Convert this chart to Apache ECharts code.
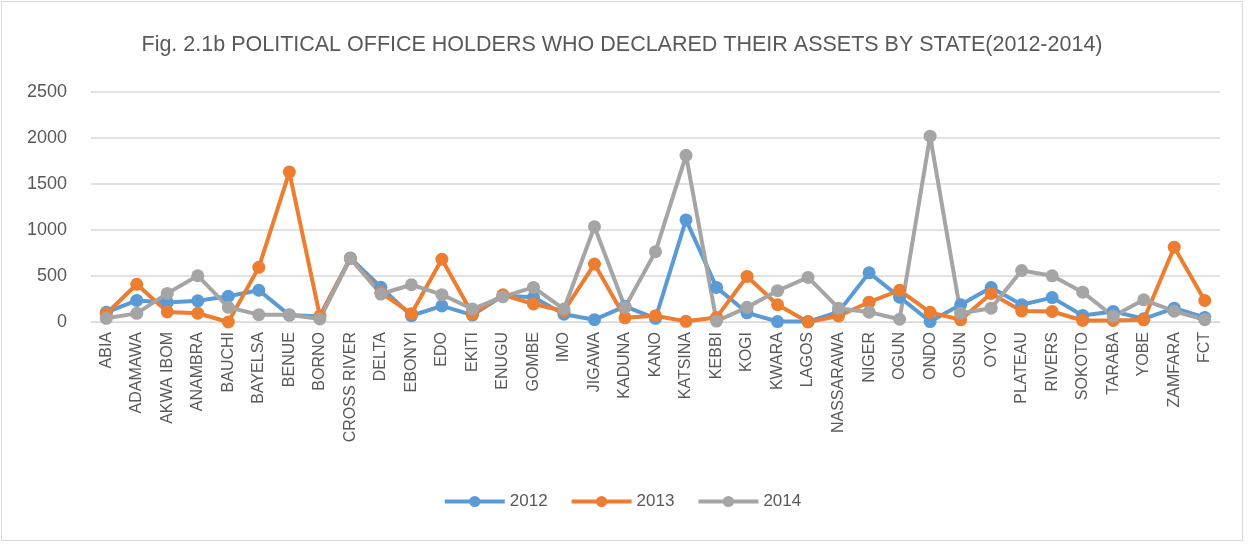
<!DOCTYPE html>
<html>
<head>
<meta charset="utf-8">
<style>
  html, body { margin: 0; padding: 0; background: #fff; }
  #container { position: absolute; left: 1px; top: 1px; width: 1242px; height: 540px;
               border: 1px solid #d9d9d9; box-sizing: border-box; }
</style>
</head>
<body>
<div id="container"></div>
<script src="https://cdn.jsdelivr.net/npm/echarts@6/dist/echarts.min.js"></script>
<script>
// states along the x axis
const states = ['ABIA','ADAMAWA','AKWA IBOM','ANAMBRA','BAUCHI','BAYELSA','BENUE','BORNO',
  'CROSS RIVER','DELTA','EBONYI','EDO','EKITI','ENUGU','GOMBE','IMO','JIGAWA','KADUNA','KANO',
  'KATSINA','KEBBI','KOGI','KWARA','LAGOS','NASSARAWA','NIGER','OGUN','ONDO','OSUN','OYO',
  'PLATEAU','RIVERS','SOKOTO','TARABA','YOBE','ZAMFARA','FCT'];

// values
const v2012 = [105, 235, 213, 230, 280, 345, 75, 60, 696, 378, 68, 175, 75, 286, 268, 85, 25,
  170, 40, 1110, 376, 100, 5, 5, 110, 535, 270, 5, 187, 375, 187, 265, 70, 115, 35, 150, 50];
const v2013 = [90, 410, 110, 95, 0, 594, 1630, 65, 690, 320, 90, 682, 87, 295, 196, 120, 630,
  45, 68, 7, 50, 495, 188, 0, 65, 215, 345, 105, 24, 310, 120, 114, 16, 16, 24, 813, 234];
const v2014 = [40, 94, 311, 503, 159, 80, 79, 33, 690, 304, 405, 297, 141, 275, 376, 141, 1036,
  160, 764, 1812, 10, 159, 340, 485, 150, 107, 30, 2020, 96, 150, 560, 502, 324, 63, 241, 117, 25];

const years = ['2012', '2013', '2014'];
const colors = ['#5B9BD5', '#ED7D31', '#A5A5A5'];
const yTicks = [0, 500, 1000, 1500, 2000, 2500];

const chart = echarts.init(document.getElementById('container'));

function makeSeries(name, data, color) {
  return {
    name: name,
    type: 'line',
    data: data,
    symbol: 'circle',
    symbolSize: 13,
    lineStyle: { width: 4, color: color },
    itemStyle: { color: color },
    animation: false
  };
}

chart.setOption({
  color: colors,
  title: {
    text: 'Fig. 2.1b POLITICAL OFFICE HOLDERS WHO DECLARED THEIR ASSETS BY STATE(2012-2014)',
    left: 'center',
    top: 27,
    textStyle: { fontFamily: 'Liberation Sans', fontSize: 21.5, fontWeight: 'normal', color: '#595959' }
  },
  legend: {
    bottom: 25,
    left: 'center',
    itemWidth: 60,
    itemHeight: 14,
    itemGap: 22,
    lineStyle: { width: 4 },
    textStyle: { fontFamily: 'Liberation Sans', fontSize: 17, color: '#595959' },
    data: years
  },
  grid: { left: 89, right: 22, top: 90, bottom: 218, containLabel: false },
  xAxis: {
    type: 'category',
    data: states,
    boundaryGap: true,
    axisLine: { lineStyle: { color: '#d9d9d9', width: 1 } },
    axisTick: { show: false },
    axisLabel: { rotate: 90, interval: 0, fontFamily: 'Liberation Sans', fontSize: 16,
                 color: '#595959', margin: 10 }
  },
  yAxis: {
    type: 'value',
    min: yTicks[0],
    max: yTicks[yTicks.length - 1],
    interval: 500,
    axisLine: { show: false },
    axisTick: { show: false },
    splitLine: { lineStyle: { color: '#d9d9d9', width: 1.5 } },
    axisLabel: { fontFamily: 'Liberation Sans', fontSize: 18, color: '#595959', margin: 24,
                 formatter: function (v) { return String(v); } }
  },
  series: [
    makeSeries(years[0], v2012, colors[0]),
    makeSeries(years[1], v2013, colors[1]),
    makeSeries(years[2], v2014, colors[2])
  ]
});
</script>
</body>
</html>
